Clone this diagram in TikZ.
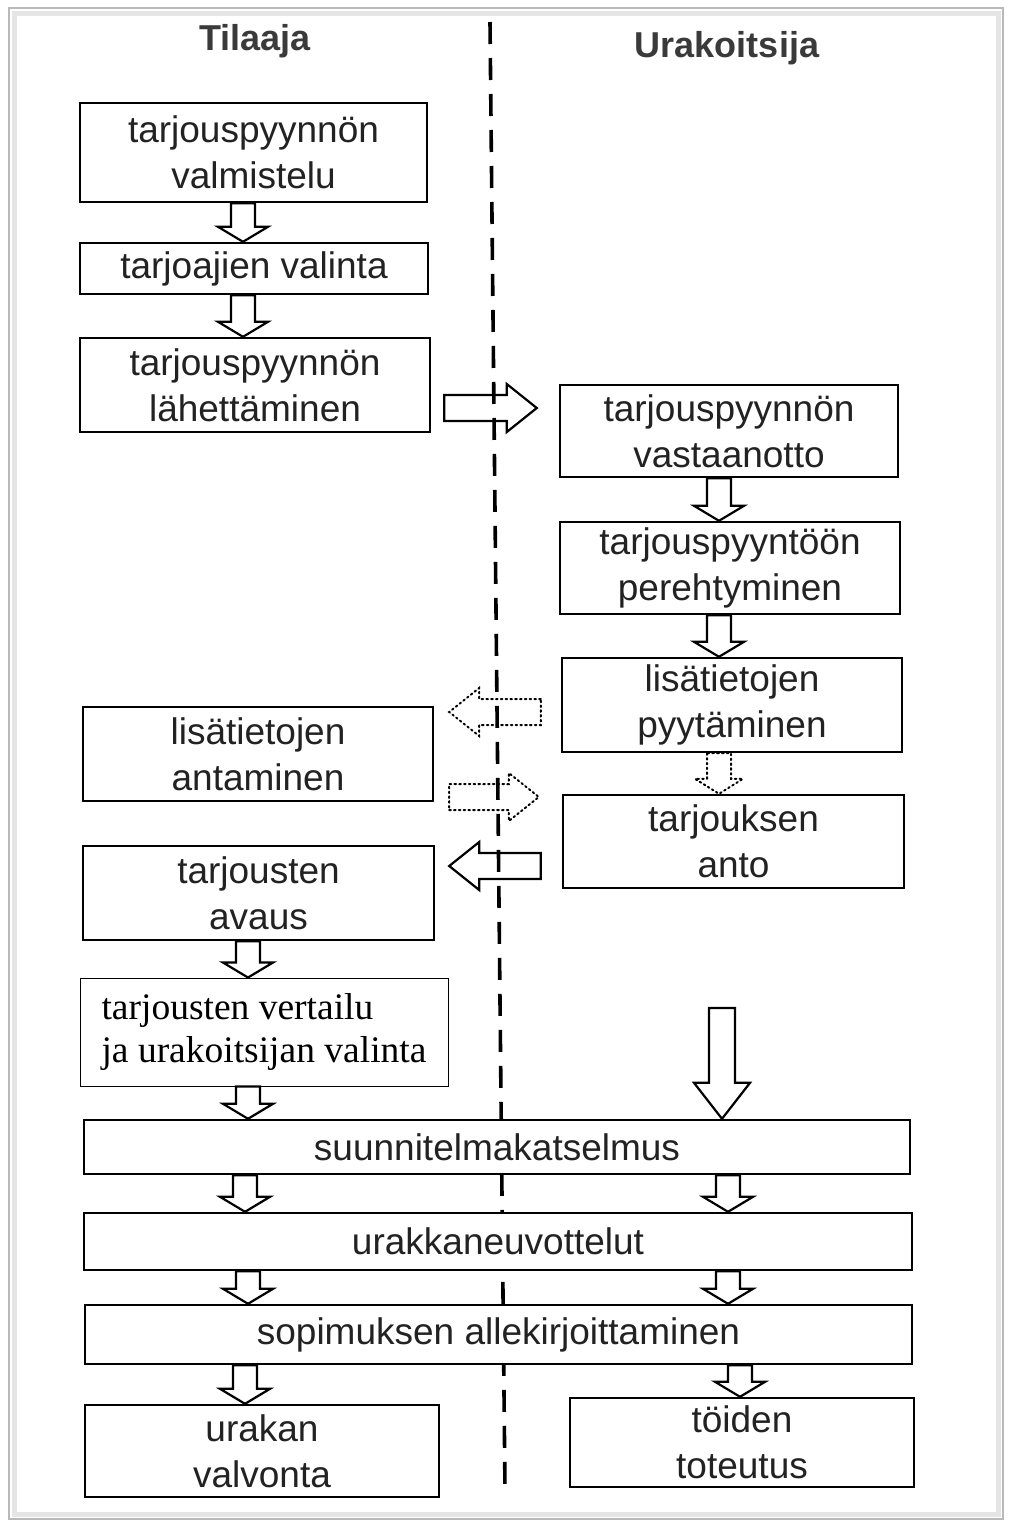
\documentclass[tikz,border=0pt]{standalone}
\usepackage{fontspec}
\setmainfont{Liberation Sans}
\newfontfamily\serifface{Liberation Serif}
\usetikzlibrary{calc}
\definecolor{ink}{HTML}{222222}
\definecolor{headink}{HTML}{3A3A3A}
\newcommand{\blockarr}[6][]{%
  \path let \p1=#2, \p2=#3 in \pgfextra{%
    \pgfmathsetmacro\barang{atan2(\y2-\y1,\x2-\x1)}%
    \pgfmathsetmacro\barlen{veclen(\x2-\x1,\y2-\y1)}%
    \global\let\barang\barang\global\let\barlen\barlen};
  \begin{scope}[shift={#2}, rotate=\barang, x=1pt, y=1pt]
    \draw[#1] (0,-#4) -- (\barlen-#6,-#4) -- (\barlen-#6,-#5) -- (\barlen,0)
      -- (\barlen-#6,#5) -- (\barlen-#6,#4) -- (0,#4) -- cycle;
  \end{scope}}
\begin{document}
\begin{tikzpicture}[x=1pt,y=-1pt,
  box/.style={draw=black, line width=2.4pt, inner sep=0pt, align=center,
    text=ink, fill=white, font=\fontsize{37}{46}\selectfont},
  serifbox/.style={draw=black, line width=0.9pt, inner sep=0pt, align=left,
    text=black, fill=white, font=\serifface\fontsize{37.5}{43}\selectfont},
  head/.style={text=headink, font=\bfseries\fontsize{36}{40}\selectfont},
  solidarr/.style={line width=2.2pt, draw=black, fill=white},
  dotarr/.style={line width=2pt, draw=black, dash pattern=on 1.6pt off 3.2pt, line cap=round}]
\useasboundingbox (0,0) rectangle (1009,1524);
% frame
\fill[white] (0,0) rectangle (1009,1524);
\draw[gray!55, line width=2pt] (9,8) rectangle (1003,1519);
\draw[gray!20, line width=5pt] (14,13) rectangle (998,1514);
% headings
\node[head] (tilaaja) at (255,41) {Tilaaja};
\node[head] (urak) at (727,48) {Urakoitsija};
% divider
\coordinate (dtop) at (490,22);
\coordinate (dbot) at (505,1490);
\draw[line width=3.6pt, dash pattern=on 22pt off 14pt] (dtop) -- (dbot);
% left column
\node[box, minimum width=347pt, minimum height=99pt] (b1) at (253.5,152.5) {tarjouspyynnön\\valmistelu};
\node[box, minimum width=348pt, minimum height=51pt] (b2) at (254,268.5) {tarjoajien valinta};
\node[box, minimum width=350pt, minimum height=94pt] (b3) at (255,385) {tarjouspyynnön\\lähettäminen};
\node[box, minimum width=350pt, minimum height=94pt] (b4) at (258,754) {lisätietojen\\antaminen};
\node[box, minimum width=351pt, minimum height=94pt] (b5) at (258.5,893) {tarjousten\\avaus};
\node[serifbox, minimum width=368pt, minimum height=108pt] (b6) at (264,1032) {tarjousten vertailu\\ja urakoitsijan valinta};
% right column
\node[box, minimum width=338pt, minimum height=92pt] (r1) at (729,431) {tarjouspyynnön\\vastaanotto};
\node[box, minimum width=340pt, minimum height=92pt] (r2) at (730,568) {tarjouspyyntöön\\perehtyminen};
\node[box, minimum width=340pt, minimum height=94pt] (r3) at (732,705) {lisätietojen\\pyytäminen};
\node[box, minimum width=341pt, minimum height=93pt] (r4) at (733.5,841.5) {tarjouksen\\anto};
% wide boxes
\node[box, minimum width=826pt, minimum height=54pt] (w1) at (497,1147) {suunnitelmakatselmus};
\node[box, minimum width=828pt, minimum height=57pt] (w2) at (498,1241.5) {urakkaneuvottelut};
\node[box, minimum width=827pt, minimum height=59pt] (w3) at (498.5,1334.5) {sopimuksen allekirjoittaminen};
% bottom boxes
\node[box, minimum width=354pt, minimum height=92pt] (b10) at (262,1451) {urakan\\valvonta};
\node[box, minimum width=344pt, minimum height=89pt] (b11) at (742,1442.5) {töiden\\toteutus};
% column coordinates
\coordinate (L1) at (243,0);
\coordinate (L2) at (248,0);
\coordinate (L3) at (245,0);
\coordinate (R1) at (719,0);
\coordinate (R2) at (722,0);
\coordinate (R3) at (728,0);
\coordinate (R4) at (740,0);
\coordinate (bigstart) at (722,1008);
% down arrows left
\blockarr[solidarr]{(b1.south -| L1)}{(b2.north -| L1)}{12}{25}{15}
\blockarr[solidarr]{(b2.south -| L1)}{(b3.north -| L1)}{12}{25}{15}
\blockarr[solidarr]{(b5.south -| L2)}{(b6.north -| L2)}{12}{25}{15}
\blockarr[solidarr]{(b6.south -| L2)}{(w1.north -| L2)}{12}{25}{15}
\blockarr[solidarr]{(w1.south -| L3)}{(w2.north -| L3)}{12}{25}{15}
\blockarr[solidarr]{(w2.south -| L2)}{(w3.north -| L2)}{12}{25}{15}
\blockarr[solidarr]{(w3.south -| L3)}{(b10.north -| L3)}{12}{25}{15}
% down arrows right
\blockarr[solidarr]{(r1.south -| R1)}{(r2.north -| R1)}{12}{25}{15}
\blockarr[solidarr]{(r2.south -| R1)}{(r3.north -| R1)}{12}{25}{15}
\blockarr[dotarr]{(r3.south -| R1)}{(r4.north -| R1)}{12}{24}{15}
\blockarr[solidarr]{(bigstart)}{(w1.north -| R2)}{13}{28}{36}
\blockarr[solidarr]{(w1.south -| R3)}{(w2.north -| R3)}{12}{25}{15}
\blockarr[solidarr]{(w2.south -| R3)}{(w3.north -| R3)}{12}{25}{15}
\blockarr[solidarr]{(w3.south -| R4)}{(b11.north -| R4)}{12}{25}{15}
% horizontal arrows
\blockarr[solidarr, fill=none]{([shift={(13,23)}]b3.east)}{([shift={(-22,-23)}]r1.west)}{13}{24}{30}
\blockarr[dotarr]{([shift={(-20,7)}]r3.west)}{([shift={(15,-42)}]b4.east)}{13}{24}{30}
\blockarr[dotarr]{([shift={(15,43)}]b4.east)}{([shift={(-23,-44.5)}]r4.west)}{13}{24}{30}
\blockarr[solidarr, fill=none]{([shift={(-21,24.5)}]r4.west)}{([shift={(14,-27)}]b5.east)}{13}{24}{30}
\end{tikzpicture}
\end{document}
